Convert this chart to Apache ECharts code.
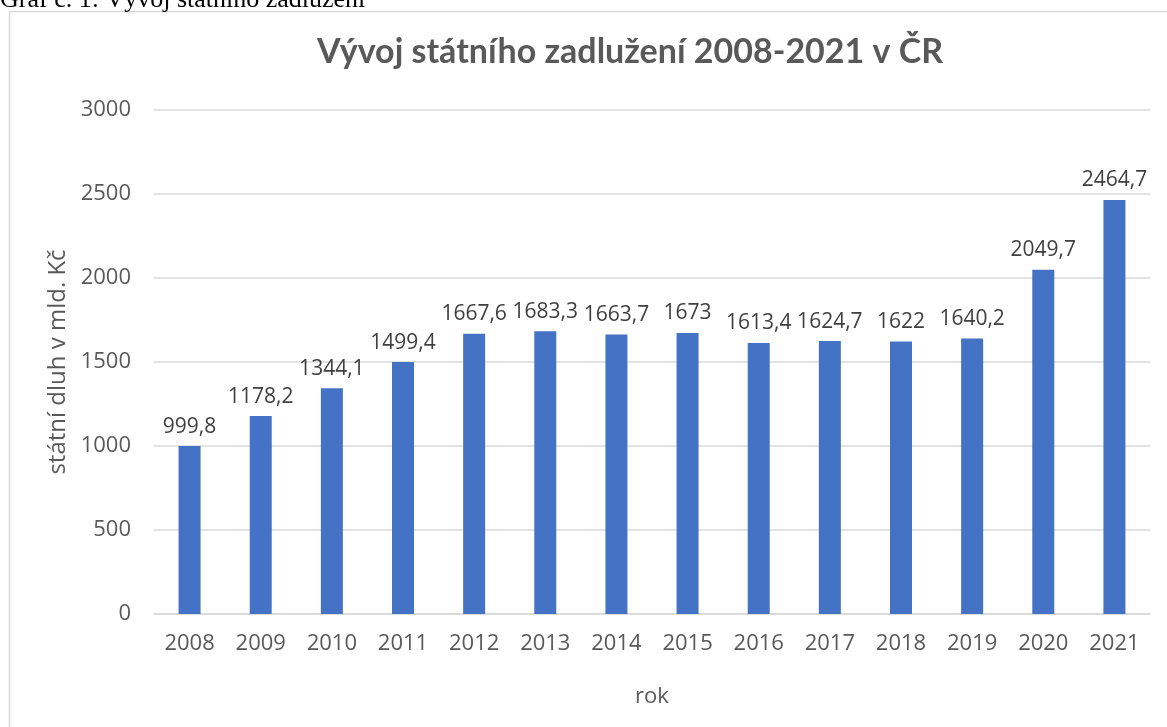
<!DOCTYPE html>
<html>
<head>
<meta charset="utf-8">
<script src="https://cdn.jsdelivr.net/npm/echarts@6/dist/echarts.min.js"></script>
<style>
  html, body { margin: 0; padding: 0; background: #fff; }
  #chart { width: 1167px; height: 727px; }
</style>
</head>
<body>
<div id="chart"></div>
<script>
const years = ['2008', '2009', '2010', '2011', '2012', '2013', '2014', '2015', '2016', '2017', '2018', '2019', '2020', '2021']
const debt = [999.8, 1178.2, 1344.1, 1499.4, 1667.6, 1683.3, 1663.7, 1673, 1613.4, 1624.7, 1622, 1640.2, 2049.7, 2464.7]

const FONT = '"Open Sans", "Noto Sans", sans-serif'
const TITLE_FONT = 'Lato, "Noto Sans", sans-serif'
const TEXT = '#595959'

const chart = echarts.init(document.getElementById('chart'))

chart.setOption({
  animation: false,
  backgroundColor: '#fff',
  textStyle: { fontFamily: FONT },
  title: {
    text: 'Vývoj státního zadlužení 2008-2021 v ČR',
    left: 625, top: 30, textAlign: 'center',
    textStyle: { fontFamily: TITLE_FONT, fontSize: 34, fontWeight: 'bold', color: TEXT },
  },
  graphic: [
    {
      type: 'rect', silent: true,
      shape: { x: 9.5, y: 11.5, width: 1170, height: 730 },
      style: { fill: 'none', stroke: '#d9d9d9', lineWidth: 1.5 },
    },
    {
      type: 'text', silent: true, left: 0, top: -13,
      style: {
        text: 'Graf č. 1: Vývoj státního zadlužení',
        font: '26px "Liberation Serif", "DejaVu Serif", serif',
        fill: '#000',
      },
    },
  ],
  grid: { left: 154, right: 17, top: 110, bottom: 113 },
  xAxis: {
    type: 'category',
    data: years,
    name: 'rok',
    nameLocation: 'middle',
    nameGap: 72,
    nameTextStyle: { fontSize: 22, color: TEXT, fontFamily: FONT },
    axisLine: { lineStyle: { color: '#d9d9d9', width: 1.5 } },
    axisTick: { show: false },
    axisLabel: { fontSize: 22, color: TEXT, margin: 19, fontFamily: FONT },
  },
  yAxis: {
    type: 'value',
    min: 0, max: 3000, interval: 500,
    name: 'státní dluh v mld. Kč',
    nameLocation: 'middle',
    nameGap: 80,
    nameTextStyle: { fontSize: 24, color: TEXT, fontFamily: FONT },
    axisLine: { show: false },
    axisTick: { show: false },
    axisLabel: { fontSize: 22, color: TEXT, margin: 23, fontFamily: FONT, formatter: (v) => String(v) },
    splitLine: { lineStyle: { color: '#d9d9d9', width: 1.5 } },
  },
  series: [
    {
      type: 'bar',
      data: debt,
      barWidth: 22,
      itemStyle: { color: '#4472c4' },
      label: {
        show: true,
        position: 'top',
        distance: 9,
        fontSize: 21,
        color: '#404040',
        fontFamily: FONT,
        formatter: (p) => String(p.value).replace('.', ','),
      },
    },
  ],
})
</script>
</body>
</html>
